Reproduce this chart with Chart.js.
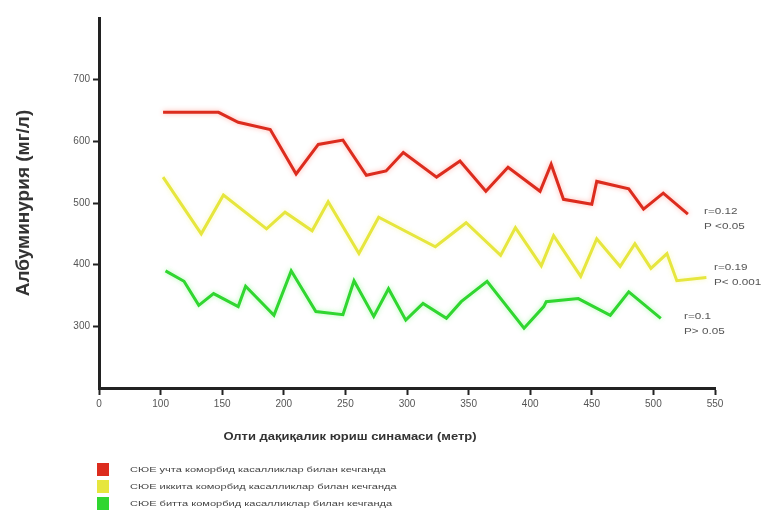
<!DOCTYPE html>
<html>
<head>
<meta charset="utf-8">
<script src="https://cdn.jsdelivr.net/npm/chart.js@4/dist/chart.umd.min.js"></script>
<style>
  html, body { margin: 0; padding: 0; background: #fff; }
  #wrap { width: 769px; height: 513px; position: relative; }
</style>
</head>
<body>
<div id="wrap"><canvas id="chart-albuminuria"></canvas></div>
<script>
// x: 6 daqiqalik yurish (metr), y: albuminuriya (mg/l)
const redX = [102, 147, 163, 189, 210, 228, 248, 267, 283, 297, 324, 343, 364, 382, 408, 417, 427, 450, 454, 480, 492, 508, 528];
const redY = [647, 647, 631, 619, 547, 595, 602, 545, 552, 582, 542, 568, 519, 558, 519, 563, 506, 498, 535, 523, 490, 516, 482];

const yellowX = [102, 133, 151, 186, 201, 223, 236, 261, 277, 323, 348, 376, 388, 409, 419, 441, 454, 473, 485, 498, 511, 519, 543];
const yellowY = [542, 450, 513, 458, 485, 455, 502, 418, 477, 429, 468, 415, 460, 398, 447, 381, 442, 397, 434, 394, 418, 374, 379];

const greenX = [104, 119, 131, 143, 163, 169, 192, 206, 226, 248, 257, 273, 285, 299, 313, 332, 344, 365, 395, 411, 413, 439, 465, 480, 506];
const greenY = [390, 373, 334, 353, 332, 365, 318, 390, 324, 319, 374, 316, 361, 310, 337, 313, 340, 373, 297, 332, 340, 345, 318, 356, 313];

const seriesLabels = [
    "СЮЕ учта коморбид касалликлар билан кечганда",
    "СЮЕ иккита коморбид касалликлар билан кечганда",
    "СЮЕ битта коморбид касалликлар билан кечганда",
];
const seriesColors = ["#dc2c1e", "#e6e63e", "#30d630"];
const glowColors = ["rgba(255,90,70,0.45)", "rgba(240,240,90,0.45)", "rgba(80,240,80,0.45)"];
const statLabels = [
    ["r=0.12", "P <0.05"],
    ["r=0.19", "P< 0.001"],
    ["r=0.1", "P> 0.05"],
];

const xTicks = [50, 100, 150, 200, 250, 300, 350, 400, 450, 500, 550];
const yTicks = [300, 400, 500, 600, 700];

const FONT = "'Liberation Sans', Arial, sans-serif";

const toPoints = (xs, ys) => xs.map((x, i) => ({ x: x, y: ys[i] }));

// the source picture has text stretched sideways, so draw it that way
const wideText = (ctx, text, x, y, sx) => {
    ctx.save();
    ctx.translate(x, y);
    ctx.scale(sx, 1);
    ctx.fillText(text, 0, 0);
    ctx.restore();
};

const glowPlugin = {
    id: "glow",
    beforeDatasetDraw(chart, args) {
        chart.ctx.save();
        chart.ctx.shadowColor = glowColors[args.index];
        chart.ctx.shadowBlur = 5;
    },
    afterDatasetDraw(chart) {
        chart.ctx.restore();
    },
};

// legend + r/P notes + x title, drawn by hand
const extrasPlugin = {
    id: "extras",
    afterDraw(chart) {
        const ctx = chart.ctx;
        ctx.save();
        ctx.textBaseline = "middle";

        // x title
        ctx.fillStyle = "#333";
        ctx.font = "bold 10px " + FONT;
        ctx.textAlign = "center";
        wideText(ctx, "Олти дақиқалик юриш синамаси (метр)", 350, 437, 1.3);

        // r / P notes at line ends
        const notePos = [[704, 212], [714, 268], [684, 317]];
        ctx.font = "9px " + FONT;
        ctx.fillStyle = "#555";
        ctx.textAlign = "left";
        statLabels.forEach((lines, i) => {
            wideText(ctx, lines[0], notePos[i][0], notePos[i][1], 1.3);
            wideText(ctx, lines[1], notePos[i][0], notePos[i][1] + 15, 1.3);
        });

        // legend
        ctx.font = "8px " + FONT;
        seriesLabels.forEach((label, i) => {
            const y = 463 + i * 17;
            ctx.fillStyle = seriesColors[i];
            ctx.fillRect(97, y, 12, 13);
            ctx.fillStyle = "#444";
            wideText(ctx, label, 130, y + 6.5, 1.38);
        });
        ctx.restore();
    },
};

const initChart = () => {
    const chartAlbuminuria = new Chart(document.getElementById("chart-albuminuria"), {
        type: "line",
        data: {
            datasets: [
                { label: seriesLabels[0], data: toPoints(redX, redY) },
                { label: seriesLabels[1], data: toPoints(yellowX, yellowY) },
                { label: seriesLabels[2], data: toPoints(greenX, greenY) },
            ].map((ds, i) => ({
                ...ds,
                borderColor: seriesColors[i],
                backgroundColor: seriesColors[i],
                borderWidth: 3,
                pointRadius: 0,
                tension: 0,
                fill: false,
            })),
        },
        options: {
            responsive: true,
            maintainAspectRatio: false,
            animation: false,
            layout: {
                padding: { left: 0, right: 54, top: 18, bottom: 85 },
            },
            plugins: {
                legend: { display: false },
                tooltip: { enabled: false },
            },
            scales: {
                x: {
                    type: "linear",
                    min: 50,
                    max: 550,
                    afterBuildTicks: (scale) => {
                        scale.ticks = xTicks.map((v) => ({ value: v }));
                    },
                    afterFit: (scale) => {
                        scale.height = 40;
                    },
                    ticks: {
                        color: "#555",
                        padding: 3,
                        font: { family: FONT, size: 10 },
                        callback: (v) => (v === 50 ? "0" : String(v)),
                    },
                    grid: {
                        drawOnChartArea: false,
                        tickLength: 7,
                        tickWidth: 2,
                        color: "#222",
                    },
                    border: { color: "#222", width: 3 },
                },
                y: {
                    type: "linear",
                    min: 200,
                    max: 800,
                    afterBuildTicks: (scale) => {
                        scale.ticks = yTicks.map((v) => ({ value: v }));
                    },
                    afterFit: (scale) => {
                        scale.width = 99;
                    },
                    title: {
                        display: true,
                        text: "Албуминурия (мг/л)",
                        color: "#333",
                        padding: { top: 12, bottom: 0 },
                        font: { family: FONT, size: 19, weight: "bold" },
                    },
                    ticks: {
                        color: "#555",
                        padding: 3,
                        font: { family: FONT, size: 10 },
                    },
                    grid: {
                        drawOnChartArea: false,
                        tickLength: 6,
                        tickWidth: 2,
                        color: "#222",
                    },
                    border: { color: "#222", width: 3 },
                },
            },
        },
        plugins: [glowPlugin, extrasPlugin],
    });

    return { chart: chartAlbuminuria };
};

window.chartAlbuminuria = initChart();
</script>
</body>
</html>
